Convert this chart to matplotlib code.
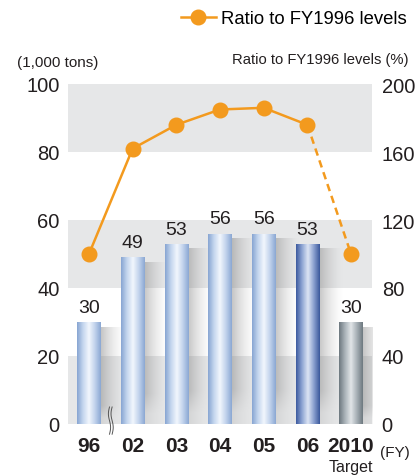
import numpy as np
import matplotlib
matplotlib.use('Agg')
import matplotlib.pyplot as plt
from matplotlib.colors import LinearSegmentedColormap
from matplotlib.lines import Line2D

plt.rcParams['font.family'] = ['Liberation Sans Narrow', 'Liberation Sans', 'DejaVu Sans']

# data
years = ['96', '02', '03', '04', '05', '06', '2010']
tons = [30, 49, 53, 56, 56, 53, 30]          # 1,000 tons
ratio = [100, 162, 176, 185, 186, 176, 100]  # % of FY1996
bar_kind = ['light', 'light', 'light', 'light', 'light', 'dark', 'gray']
left_ticks = [0, 20, 40, 60, 80, 100]
right_ticks = [0, 40, 80, 120, 160, 200]

orange = '#f39a1e'
band = '#e6e7e8'
txt = '#231f20'

gradients = {
    'light': ['#87a5d2', '#c4d6ee', '#f2f7fd', '#c2d3ec', '#8aa7d3'],
    'dark': ['#3c5a9f', '#8ea5d3', '#dde5f4', '#8aa0cf', '#3a579b'],
    'gray': ['#6d787f', '#aab3b9', '#e2e6e8', '#a7b0b6', '#6d787f'],
}

fig = plt.figure(figsize=(4.18, 4.77), dpi=100)
ax = fig.add_axes([68 / 418, 1 - 425 / 477, 304 / 418, 340 / 477])
x = np.arange(len(years))
ax.set_xlim(-0.48, len(years) - 0.52)
ax.set_ylim(0, 100)

# background bands
for lo in (0, 40, 80):
    ax.axhspan(lo, lo + 20, color=band, lw=0, zorder=0)

w = 0.53
bars = ax.bar(x, tons, width=w, color='none', lw=0, zorder=3)

# soft shadow to the right of each bar
fade = np.linspace(1, 0, 64) ** 1.6
for rect in bars:
    x0 = rect.get_x() + rect.get_width()
    h = rect.get_height()
    rgba = np.zeros((8, 64, 4))
    rgba[..., :3] = 0.5
    rgba[..., 3] = fade[None, :] * 0.45
    rgba[-1, :, 3] *= 0.4
    ax.imshow(rgba, extent=(x0, x0 + 0.55, 0, h - 1.5), aspect='auto',
              interpolation='bilinear', zorder=2)

# gradient-filled bars
for rect, kind in zip(bars, bar_kind):
    cmap = LinearSegmentedColormap.from_list(kind, gradients[kind])
    grad = np.linspace(0, 1, 128).reshape(1, -1)
    im = ax.imshow(grad, cmap=cmap, extent=(rect.get_x(), rect.get_x() + rect.get_width(),
                                            0, rect.get_height()),
                   aspect='auto', interpolation='bilinear', zorder=3)
    im.set_clip_path(rect)

for xi, v in zip(x, tons):
    ax.text(xi, v + 1.8, str(v), ha='center', va='bottom', fontsize=14, color=txt, zorder=5)

# axis break mark between 96 and 02
for dx in (-0.03, 0.03):
    t = np.linspace(0, 1, 30)
    ax.plot(0.5 + dx + 0.025 * np.sin(t * 2 * np.pi), -3 + t * 8, color='#555555', lw=0.7,
            clip_on=False, zorder=6)

ax.set_yticks(left_ticks)
ax.set_yticklabels([str(t) for t in left_ticks], fontsize=14.5, color=txt)
ax.set_xticks(x)
ax.set_xticklabels(years, fontsize=15, fontweight='bold', color=txt)
ax.tick_params(length=0, pad=6)
ax.tick_params(axis='x', pad=9)
for s in ax.spines.values():
    s.set_visible(False)

# ratio line on secondary axis
ax2 = ax.twinx()
ax2.set_ylim(0, 200)
ax2.plot(x[:-1], ratio[:-1], color=orange, lw=1.8, zorder=4)
ax2.plot(x[-2:], ratio[-2:], color=orange, lw=1.8, ls=(0, (3, 2)), zorder=4)
ax2.plot(x, ratio, 'o', color=orange, ms=10.5, zorder=5)
ax2.set_yticks(right_ticks)
ax2.set_yticklabels([str(t) for t in right_ticks], fontsize=14.5, color=txt)
ax2.tick_params(length=0, pad=7)
for s in ax2.spines.values():
    s.set_visible(False)

fig.text(98 / 418, 1 - 63 / 477, '(1,000 tons)', ha='right', va='center', fontsize=11, color=txt)
fig.text(408 / 418, 1 - 60 / 477, 'Ratio to FY1996 levels (%)', ha='right', va='center',
         fontsize=10.6, color=txt)
fig.text(410 / 418, 1 - 453 / 477, '(FY)', ha='right', va='center', fontsize=11, color=txt)
fig.text(351 / 418, 1 - 468 / 477, 'Target', ha='center', va='center', fontsize=11.5, color=txt)

# legend
handle = Line2D([], [], color=orange, lw=1.8, marker='o', ms=10.5)
fig.legend([handle], ['Ratio to FY1996 levels'], loc='upper right', bbox_to_anchor=(1.0, 1.0),
           frameon=False, fontsize=13.3, handlelength=1.9, handletextpad=0.3, borderaxespad=0.2)

fig.savefig('out.png', dpi=100)
